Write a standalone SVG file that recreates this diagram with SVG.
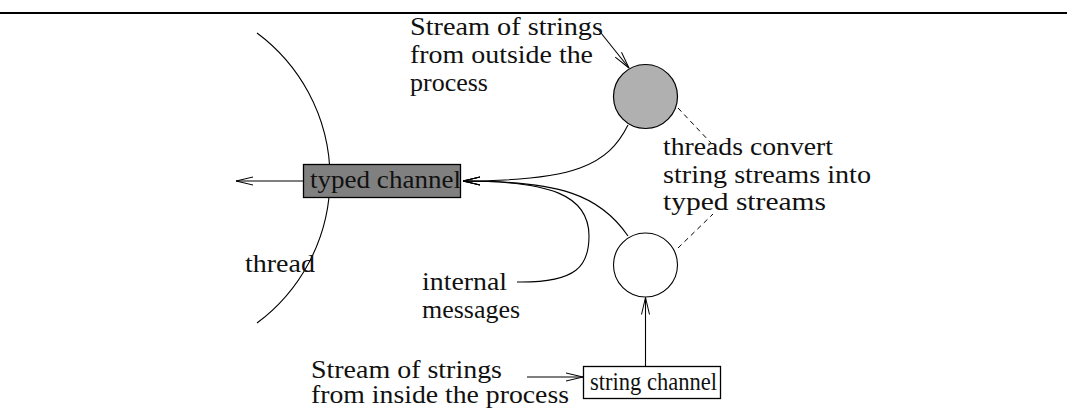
<svg xmlns="http://www.w3.org/2000/svg" width="1067" height="408" viewBox="0 0 1067 408">
  <defs>
    <marker id="open-arrow" markerUnits="userSpaceOnUse" markerWidth="24" markerHeight="14" viewBox="-20 -7 24 14" refX="0" refY="0" orient="auto">
      <path d="M-17,-4 L0,0 L-17,4" fill="none" stroke="#000" stroke-width="1"/>
    </marker>
    <style>
      .ln { fill: none; stroke: #000; stroke-width: 1.1; }
      .dash { fill: none; stroke: #000; stroke-width: 1; stroke-dasharray: 5 4; }
      .lbl { font-family: "Liberation Serif", "Times New Roman", serif; font-size: 25px; fill: #111; }
      .box { stroke: #000; stroke-width: 1.3; }
    </style>
  </defs>

  <rect width="1067" height="408" fill="#fff"/>

  <!-- rule across the top -->
  <line x1="0" y1="13" x2="1067" y2="13" stroke="#000" stroke-width="2.2"/>

  <!-- process boundary arc -->
  <g id="thread-boundary">
    <path class="ln" d="M257,33 A180.5,180.5 0 0 1 257,323"/>
    <text class="lbl" x="245" y="272" textLength="70" lengthAdjust="spacingAndGlyphs">thread</text>
  </g>

  <!-- connectors -->
  <g id="connectors">
    <path class="ln" d="M303,181 L236,181" marker-end="url(#open-arrow)"/>
    <path class="ln" d="M628,125 C608,165 575,181 463,181" marker-end="url(#open-arrow)"/>
    <path class="ln" d="M628,236 C600,195 560,181 463,181" marker-end="url(#open-arrow)"/>
    <path class="ln" d="M517,282 C578,283 589,265 589,236 C589,195 550,181 463,181" marker-end="url(#open-arrow)"/>
    <path class="ln" d="M597,28 L629,68" marker-end="url(#open-arrow)"/>
    <path class="ln" d="M645.5,366 L645.5,297.5" marker-end="url(#open-arrow)"/>
    <path class="ln" d="M527,377 L583,377" marker-end="url(#open-arrow)"/>
    <path class="dash" d="M678,108 L711,143"/>
    <path class="dash" d="M678,248 L713,214"/>
  </g>

  <g id="typed-channel">
    <rect class="box" x="303.5" y="164.5" width="157" height="33" fill="#808080"/>
    <text class="lbl" x="310" y="188" textLength="151" lengthAdjust="spacingAndGlyphs">typed channel</text>
  </g>

  <g id="outside-thread">
    <circle cx="645.5" cy="96.5" r="32" fill="#b0b0b0" stroke="#000" stroke-width="1.2"/>
  </g>

  <g id="inside-thread">
    <circle cx="645.5" cy="265" r="32" fill="#fff" stroke="#000" stroke-width="1.1"/>
  </g>

  <g id="string-channel">
    <rect class="box" x="583.5" y="366.5" width="137" height="32" fill="#fff"/>
    <text class="lbl" x="590" y="390" font-size="24" textLength="127" lengthAdjust="spacingAndGlyphs">string channel</text>
  </g>

  <g id="label-outside">
    <text class="lbl" x="410" y="35" textLength="193" lengthAdjust="spacingAndGlyphs">Stream of strings</text>
    <text class="lbl" x="410" y="63" textLength="183" lengthAdjust="spacingAndGlyphs">from outside the</text>
    <text class="lbl" x="410" y="91" textLength="78" lengthAdjust="spacingAndGlyphs">process</text>
  </g>

  <g id="label-convert">
    <text class="lbl" x="663" y="155" textLength="170" lengthAdjust="spacingAndGlyphs">threads convert</text>
    <text class="lbl" x="663" y="182.5" textLength="208" lengthAdjust="spacingAndGlyphs">string streams into</text>
    <text class="lbl" x="663" y="210" textLength="163" lengthAdjust="spacingAndGlyphs">typed streams</text>
  </g>

  <g id="label-internal">
    <text class="lbl" x="422" y="290" textLength="85" lengthAdjust="spacingAndGlyphs">internal</text>
    <text class="lbl" x="422" y="318" textLength="98" lengthAdjust="spacingAndGlyphs">messages</text>
  </g>

  <g id="label-inside">
    <text class="lbl" x="311" y="378" textLength="191" lengthAdjust="spacingAndGlyphs">Stream of strings</text>
    <text class="lbl" x="311" y="403" textLength="258" lengthAdjust="spacingAndGlyphs">from inside the process</text>
  </g>
</svg>
